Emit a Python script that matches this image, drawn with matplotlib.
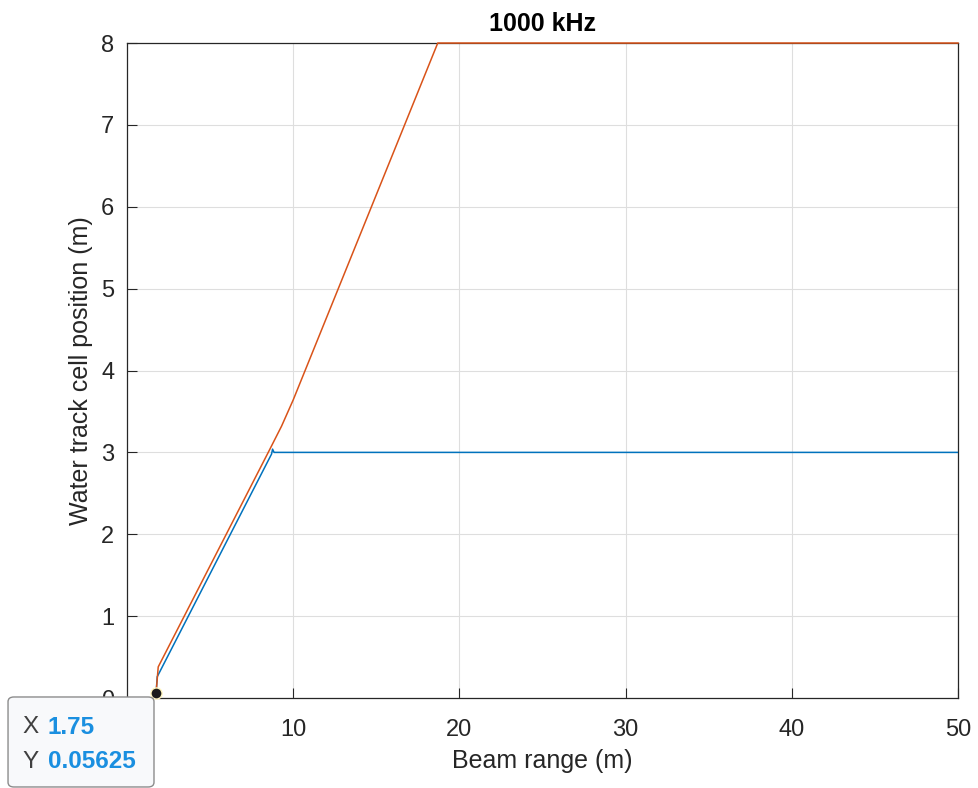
import matplotlib
matplotlib.use("Agg")
import matplotlib.pyplot as plt
from matplotlib.patches import FancyBboxPatch

plt.rcParams['font.family'] = ['Liberation Sans', 'DejaVu Sans']

# beam range (m) vs water track cell position (m)
blue_x = [1.75, 1.82, 8.7, 8.76, 8.85, 50.0]
blue_y = [0.05625, 0.26, 2.98, 3.04, 3.0, 3.0]
red_x = [1.75, 1.88, 8.5, 9.3, 10.0, 18.7, 50.0]
red_y = [0.05625, 0.38, 3.0, 3.32, 3.64, 8.0, 8.0]

tip_x = 1.75
tip_y = 0.05625

xticks = [10, 20, 30, 40, 50]
yticks = [0, 1, 2, 3, 4, 5, 6, 7, 8]

blue = '#0072BD'
red = '#D95319'
axc = '#262626'

fig = plt.figure(figsize=(9.79, 7.88), dpi=100)
ax = fig.add_axes([0.1297, 0.1142, 0.8488, 0.8312])

ax.plot(blue_x, blue_y, color=blue, lw=1.1, zorder=3)
ax.plot(red_x, red_y, color=red, lw=1.1, zorder=3, clip_on=False)

ax.set_xlim(0, 50)
ax.set_ylim(0, 8)
ax.set_xticks(xticks)
ax.set_yticks(yticks)
ax.grid(True, color='#dedede', lw=0.8)
ax.set_axisbelow(True)
ax.tick_params(axis='both', direction='in', length=7, width=0.8, colors=axc,
               labelsize=17, top=False, right=False)
ax.tick_params(axis='x', pad=15)
ax.tick_params(axis='y', pad=9)
for s in ax.spines.values():
    s.set_color(axc)
    s.set_linewidth(0.9)

ax.set_xlabel('Beam range (m)', fontsize=18, color=axc, labelpad=6)
ax.set_ylabel('Water track cell position (m)', fontsize=18, color=axc, labelpad=6)
ax.set_title('1000 kHz', fontsize=18, fontweight='bold', pad=9)

# data tip marker
ax.plot([tip_x], [tip_y], 'o', ms=8, mfc='#1a1a1a', mec='#fff5c0', mew=1,
        clip_on=False, zorder=10)

# data tip box
box = FancyBboxPatch((0.0082, 0.0013), 0.1491, 0.1142,
                     boxstyle='round,pad=0,rounding_size=0.006',
                     transform=fig.transFigure, facecolor='#f8f9fb',
                     edgecolor='#8c8c8c', lw=1, zorder=5)
fig.patches.append(box)
fig.text(0.0225, 0.0774, 'X', fontsize=17.5, color='#404040', va='center', zorder=6)
fig.text(0.049, 0.0774, '1.75', fontsize=17.5, color='#1a8fe0', fontweight='bold',
         va='center', zorder=6)
fig.text(0.0225, 0.033, 'Y', fontsize=17.5, color='#404040', va='center', zorder=6)
fig.text(0.049, 0.033, '0.05625', fontsize=17.5, color='#1a8fe0', fontweight='bold',
         va='center', zorder=6)

fig.savefig('out.png', dpi=100)
